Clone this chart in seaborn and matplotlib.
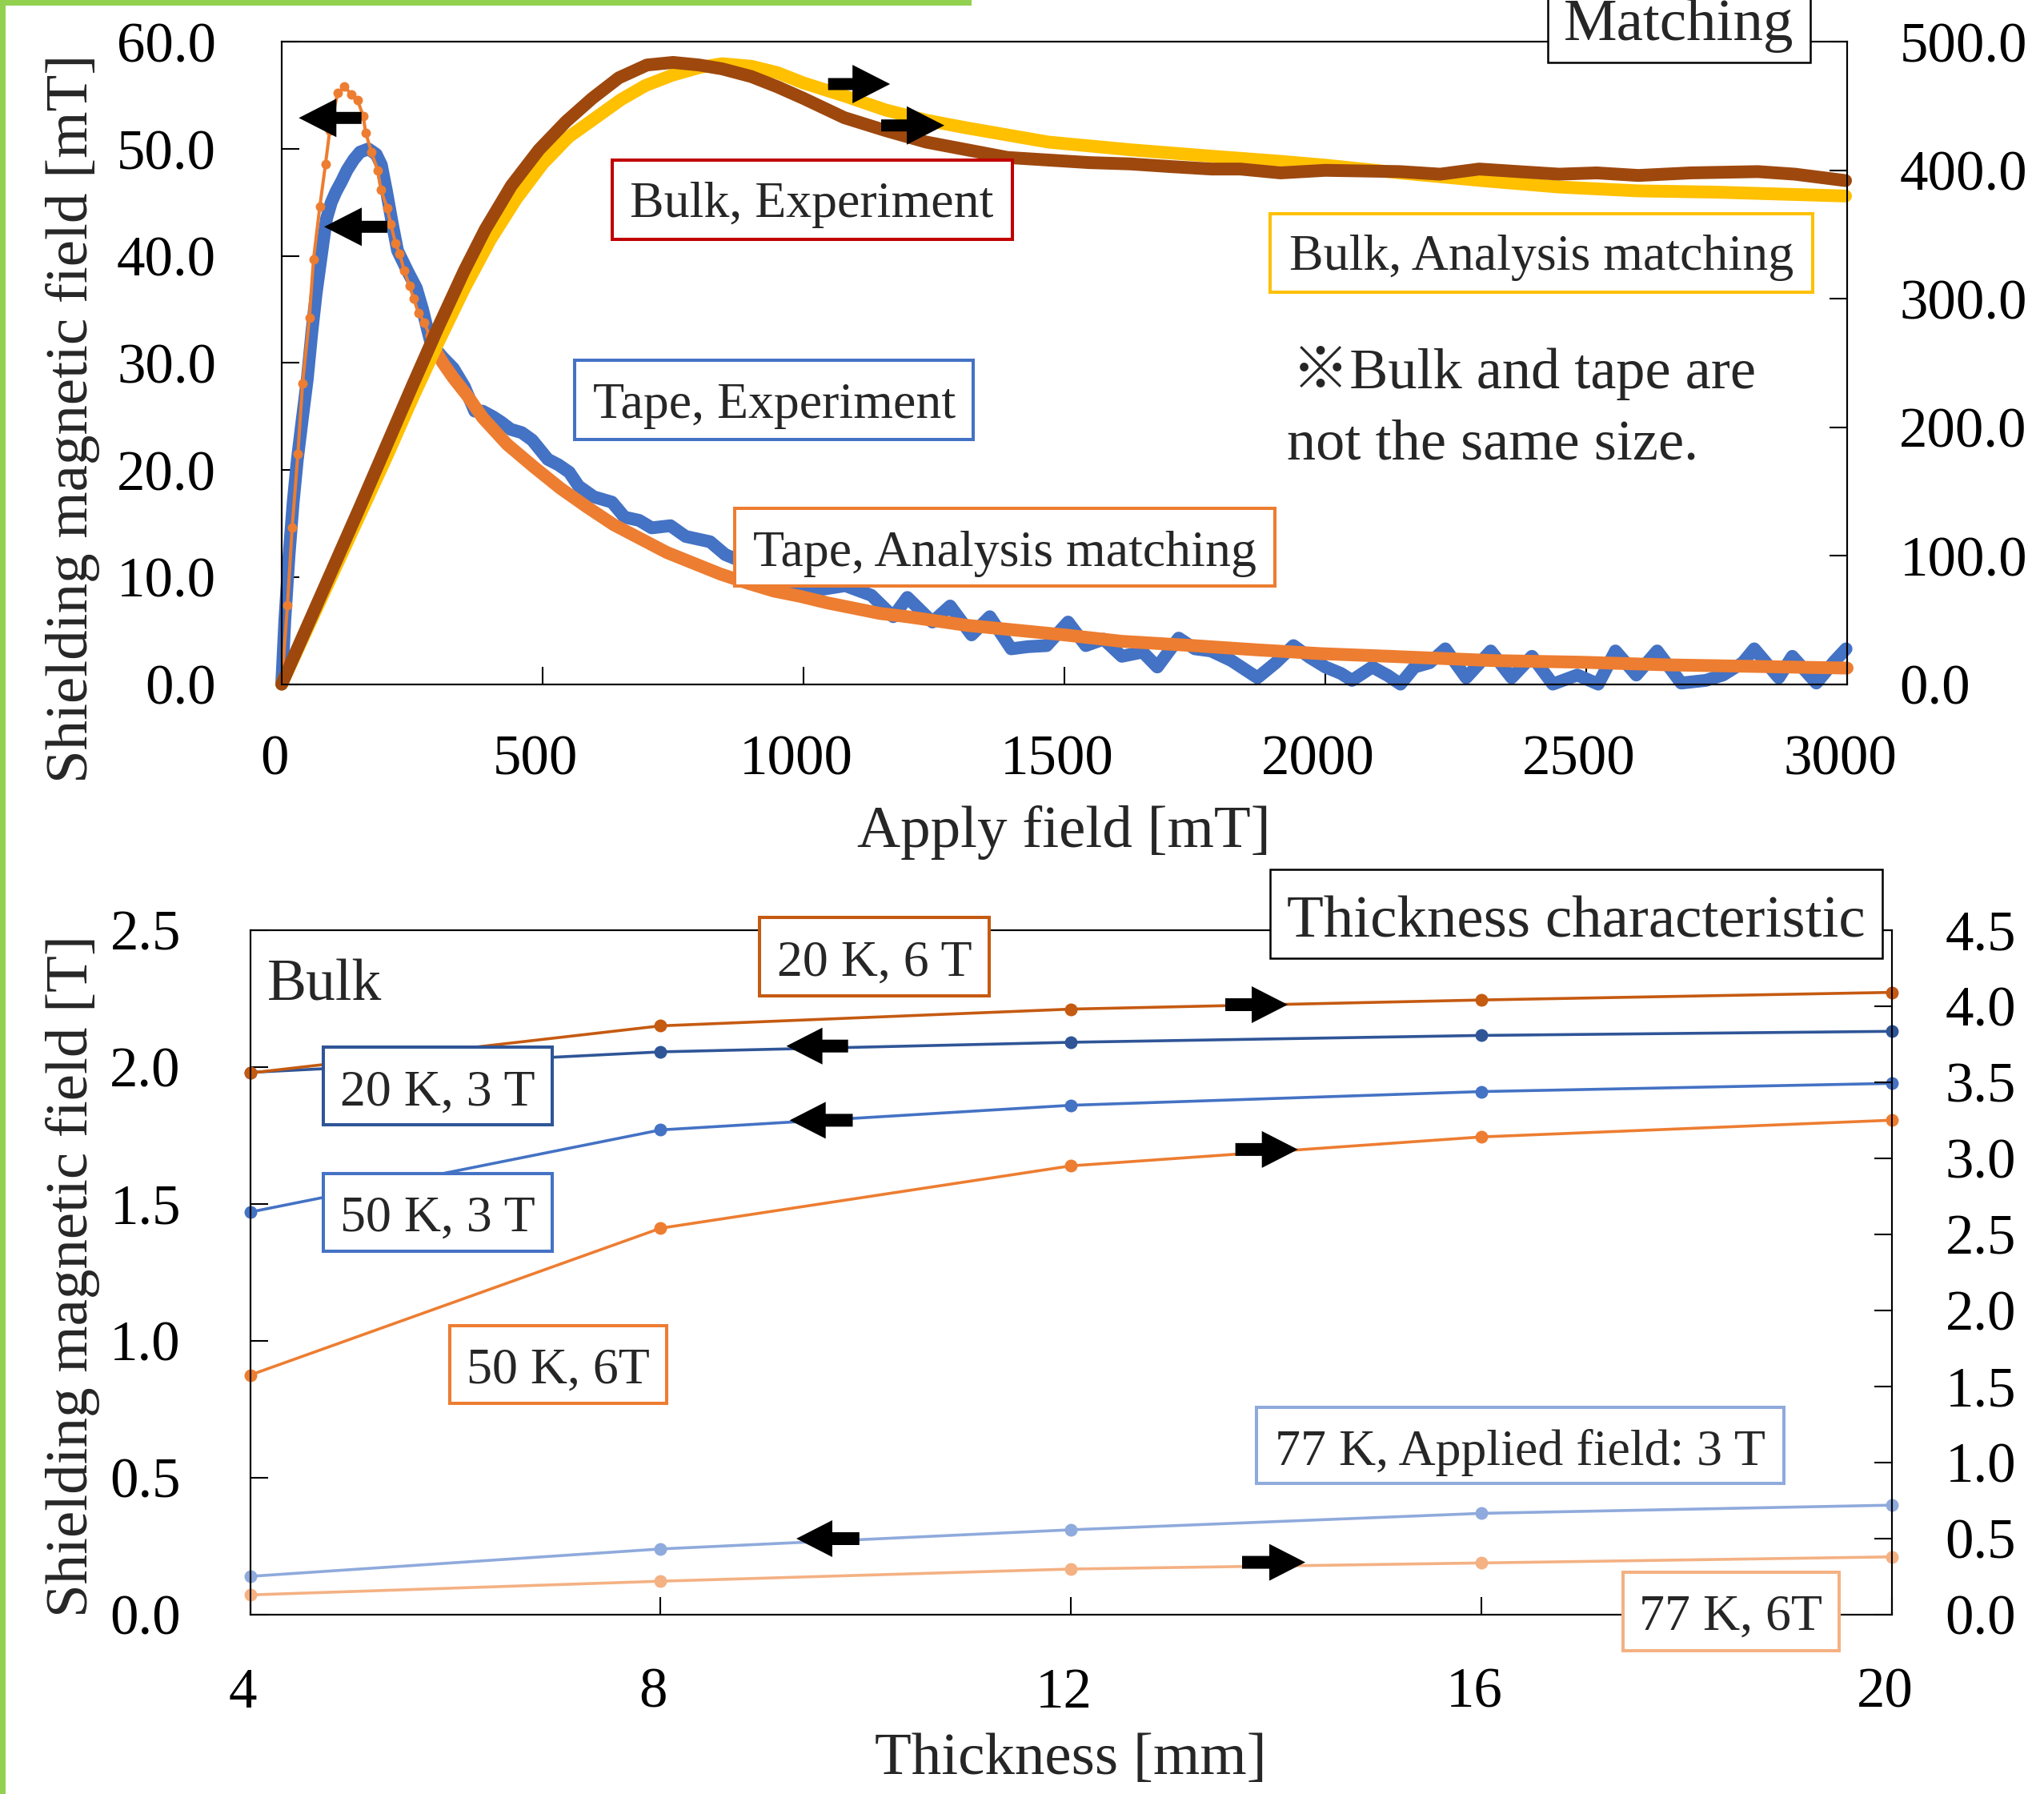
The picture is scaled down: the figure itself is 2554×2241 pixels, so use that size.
import matplotlib
matplotlib.use("Agg")
import matplotlib.pyplot as plt
import seaborn as sns
from matplotlib.patches import Rectangle, Polygon
from matplotlib.ticker import FormatStrFormatter
from matplotlib.transforms import ScaledTranslation

W, H, DPI = 2554, 2241, 100

# ---- top panel data ----
tape_exp_x = [0, 6, 14, 22, 30, 40, 49, 58, 66, 73, 80, 86, 95, 104, 115, 125, 138, 150, 166, 181,
              191, 201, 212, 222, 232, 242, 258, 270, 280, 288, 300, 309, 329, 350, 370, 385, 404, 420,
              439, 460, 480, 510, 530, 551, 569, 598, 633, 657, 685, 709, 745, 774, 821, 850, 880, 920,
              960, 1000, 1028, 1080, 1130, 1172, 1199, 1247, 1281, 1322, 1357, 1398, 1430, 1466, 1507,
              1541, 1575, 1610, 1650, 1678, 1719, 1750, 1781, 1820, 1870, 1905, 1939, 1970, 2000, 2030,
              2051, 2090, 2120, 2144, 2171, 2200, 2230, 2270, 2317, 2357, 2396, 2436, 2483, 2523, 2556,
              2596, 2636, 2682, 2729, 2762, 2800, 2822, 2869, 2895, 2941, 2975, 2998]
tape_exp_y = [0.0, 6.0, 12.0, 17.0, 21.0, 25.0, 28.5, 33.0, 36.5, 39.0, 41.5, 43.5, 45.0, 46.0, 47.0,
              48.0, 49.0, 49.7, 50.0, 49.5, 48.5, 46.0, 43.0, 40.5, 39.5, 38.5, 37.0, 35.0, 33.0, 31.5,
              31.0, 30.5, 29.5, 27.8, 25.5, 25.5, 25.0, 24.5, 23.8, 23.5, 22.8, 21.0, 20.5, 19.8, 18.5,
              17.5, 17.0, 15.6, 15.3, 14.6, 14.8, 13.8, 13.3, 12.1, 11.5, 10.5, 9.5, 9.0, 8.8, 9.2, 8.3,
              6.3, 8.1, 5.8, 7.3, 4.6, 6.3, 3.3, 3.5, 3.6, 5.8, 3.6, 4.2, 2.6, 3.0, 1.6, 4.3, 3.3, 3.1,
              2.2, 0.6, 2.0, 3.6, 2.5, 1.6, 1.0, 0.35, 1.6, 0.8, 0.0, 1.6, 2.0, 3.3, 0.6, 3.1, 0.6, 2.6,
              0.0, 0.85, 0.0, 3.1, 0.85, 3.1, 0.1, 0.35, 0.85, 2.0, 3.3, 0.6, 2.6, 0.1, 2.1, 3.3]

tape_fit_x = [0, 11, 20, 31, 40, 53, 61, 73, 84, 92, 107, 120, 134, 145, 156, 161, 172, 184, 190, 202,
              209, 218, 226, 235, 245, 253, 262, 273, 283, 293, 309, 329, 355, 385, 432, 483, 534, 585,
              636, 687, 738, 789, 840, 892, 943, 994, 1045, 1096, 1147, 1199, 1312, 1500, 1610, 1747,
              1870, 1991, 2123, 2323, 2489, 2656, 2829, 3000]
tape_fit_y = [0.0, 7.4, 14.6, 21.5, 28.1, 34.2, 39.7, 44.6, 48.6, 51.7, 55.2, 55.8, 55.1, 54.6, 53.1,
              51.5, 49.7, 48.0, 46.2, 44.5, 43.0, 41.2, 40.2, 38.6, 37.2, 36.0, 34.7, 33.8, 32.6, 31.3,
              30.0, 28.6, 27.0, 24.9, 22.4, 20.3, 18.3, 16.55, 14.9, 13.6, 12.3, 11.3, 10.3, 9.45, 8.7,
              8.2, 7.6, 7.1, 6.6, 6.3, 5.5, 4.6, 4.0, 3.6, 3.2, 2.85, 2.6, 2.2, 2.05, 1.8, 1.65, 1.5]

bulk_exp_x = [0, 50, 100, 150, 200, 250, 300, 350, 390, 440, 493, 545, 595, 646, 700, 750, 800, 844,
              900, 950, 1000, 1078, 1157, 1235, 1313, 1391, 1469, 1548, 1626, 1700, 1782, 1837, 1914,
              2000, 2143, 2220, 2295, 2370, 2448, 2520, 2600, 2700, 2829, 2900, 2997]
bulk_exp_y = [0, 46, 92, 138, 185, 232, 278, 322, 354, 388, 416, 438, 456, 472, 482, 484, 482, 479,
              473, 465, 456, 441, 431, 422, 416, 410, 408, 406, 405, 403, 401, 401, 398, 400, 399, 397,
              401, 399, 397, 398, 396, 398, 399, 397, 392]

bulk_fit_x = [0, 50, 100, 150, 200, 250, 300, 350, 400, 450, 500, 550, 595, 650, 697, 748, 800, 844,
              900, 950, 1000, 1078, 1157, 1235, 1313, 1469, 1626, 1782, 1914, 2000, 2143, 2300, 2448,
              2600, 2750, 2997]
bulk_fit_y = [0, 44, 88, 132, 176, 222, 266, 308, 346, 378, 405, 426, 439, 455, 466, 474, 480, 483,
              481, 476, 468, 458, 447, 439, 433, 422, 416, 411, 407, 404, 398, 392, 387, 384, 383, 380]

# ---- bottom panel data ----
thickness = [4, 8, 12, 16, 20]
k20_3t = [1.98, 2.055, 2.09, 2.115, 2.13]   # left axis
k50_3t = [1.47, 1.77, 1.86, 1.91, 1.94]     # left axis
k77_3t = [0.14, 0.24, 0.31, 0.37, 0.40]     # left axis
k20_6t = [3.56, 3.87, 3.98, 4.04, 4.09]     # right axis
k50_6t = [1.575, 2.54, 2.95, 3.14, 3.25]    # right axis
k77_6t = [0.13, 0.22, 0.30, 0.34, 0.38]     # right axis

sns.set_style("ticks")
plt.rcParams["font.family"] = ["Liberation Serif", "Noto Sans CJK JP"]

fig = plt.figure(figsize=(W / DPI, H / DPI), dpi=DPI)
fig.patch.set_facecolor("white")


def fx(px):
    return px / W


def fy(py):
    return 1 - py / H


def style_axis(ax, xpad, ypad):
    ax.tick_params(axis="both", direction="in", length=15.5, width=1.5,
                   labelsize=51, colors="black")
    ax.tick_params(axis="x", pad=xpad)
    ax.tick_params(axis="y", pad=ypad)
    for s in ax.spines.values():
        s.set_visible(True)
        s.set_linewidth(1.5)
        s.set_color("black")


# ---------------- top panel ----------------
ax1 = fig.add_axes([fx(352), fy(854.6), fx(2308) - fx(352), fy(52.3) - fy(854.6)])
ax1r = ax1.twinx()

sns.lineplot(x=tape_exp_x, y=tape_exp_y, ax=ax1, color="#4472C4", linewidth=11.5,
             solid_joinstyle="round", solid_capstyle="round", clip_on=False)
sns.lineplot(x=tape_fit_x, y=tape_fit_y, ax=ax1, color="#ED7D31", linewidth=2.9,
             marker="o", markersize=8.6, markeredgewidth=0, clip_on=False)
# past the peak the fitted markers sit so close together they read as a thick band
tail_x = [x for x in tape_fit_x if x >= 290]
tail_y = [y for x, y in zip(tape_fit_x, tape_fit_y) if x >= 290]
sns.lineplot(x=tail_x, y=tail_y, ax=ax1, color="#ED7D31", linewidth=11.5,
             solid_joinstyle="round", solid_capstyle="round", clip_on=False)

sns.lineplot(x=bulk_fit_x, y=bulk_fit_y, ax=ax1r, color="#FFC000", linewidth=11.5,
             solid_joinstyle="round", solid_capstyle="round", clip_on=False)
sns.lineplot(x=bulk_exp_x, y=bulk_exp_y, ax=ax1r, color="#9E480E", linewidth=11.5,
             solid_joinstyle="round", solid_capstyle="round", clip_on=False)

ax1.set_xlim(0, 3000)
ax1.set_ylim(0, 60)
ax1.set_xticks(range(0, 3001, 500))
ax1.set_yticks(range(0, 61, 10))
ax1.yaxis.set_major_formatter(FormatStrFormatter("%.1f"))
ax1r.set_ylim(0, 500)
ax1r.set_yticks(range(0, 501, 100))
ax1r.yaxis.set_major_formatter(FormatStrFormatter("%.1f"))
for a in (ax1, ax1r):
    a.set_xlabel("")
    a.set_ylabel("")
style_axis(ax1, 45, 59)
style_axis(ax1r, 45, 47)
ax1.tick_params(right=False, top=False)

# ---------------- bottom panel ----------------
ax2 = fig.add_axes([fx(312.6), fy(2017), fx(2364) - fx(312.6), fy(1161.7) - fy(2017)])
ax2r = ax2.twinx()

for vals, col in [(k77_3t, "#8FAADC"), (k50_3t, "#4472C4"), (k20_3t, "#2F5597")]:
    sns.lineplot(x=thickness, y=vals, ax=ax2, color=col, linewidth=2.6, marker="o",
                 markersize=11.5, markeredgewidth=0, clip_on=False)
for vals, col in [(k77_6t, "#F4B183"), (k50_6t, "#ED7D31"), (k20_6t, "#C55A11")]:
    sns.lineplot(x=thickness, y=vals, ax=ax2r, color=col, linewidth=2.6, marker="o",
                 markersize=11.5, markeredgewidth=0, clip_on=False)

ax2.set_xlim(4, 20)
ax2.set_ylim(0, 2.5)
ax2.set_xticks(thickness)
ax2.set_yticks([0, 0.5, 1.0, 1.5, 2.0, 2.5])
ax2.yaxis.set_major_formatter(FormatStrFormatter("%.1f"))
ax2r.set_ylim(0, 4.5)
ax2r.set_yticks([0, 0.5, 1.0, 1.5, 2.0, 2.5, 3.0, 3.5, 4.0, 4.5])
ax2r.yaxis.set_major_formatter(FormatStrFormatter("%.1f"))
for a in (ax2, ax2r):
    a.set_xlabel("")
    a.set_ylabel("")
style_axis(ax2, 47.5, 62.5)
style_axis(ax2r, 47.5, 48)
ax2.tick_params(right=False, top=False)

# ---------------- axis titles ----------------
fig.text(fx(91), fy(523), "Shielding magnetic field [mT]", rotation=90, ha="center", va="center", fontsize=54)
fig.text(fx(91), fy(1594), "Shielding magnetic field [T]", rotation=90, ha="center", va="center", fontsize=54)
fig.text(fx(1329), fy(1058), "Apply field [mT]", ha="center", va="baseline", fontsize=54)
fig.text(fx(1338), fy(2216), "Thickness [mm]", ha="center", va="baseline", fontsize=54)


# ---------------- boxes, notes, arrows ----------------
def label_box(x0, y0, x1, y1, base, text, ec, lw=2.9, size=46):
    fig.add_artist(Rectangle((fx(x0), fy(y1)), fx(x1) - fx(x0), fy(y0) - fy(y1),
                             facecolor="white", edgecolor=ec, linewidth=lw,
                             transform=fig.transFigure, zorder=5))
    fig.text(fx((x0 + x1) / 2), fy(base), text, ha="center", va="baseline",
             fontsize=size, zorder=6)


def block_arrow(x_tail, x_tip, y, head_len=47, head_half=24, shaft_half=7.5):
    d = 1 if x_tip > x_tail else -1
    xb = x_tip - d * head_len
    pts = [(x_tail, y - shaft_half), (xb, y - shaft_half), (xb, y - head_half), (x_tip, y),
           (xb, y + head_half), (xb, y + shaft_half), (x_tail, y + shaft_half)]
    fig.add_artist(Polygon([(fx(a), fy(b)) for a, b in pts], closed=True, facecolor="black",
                           edgecolor="none", transform=fig.transFigure, zorder=4))


label_box(1934, -10, 2262, 78, 50, "Matching", "black", lw=1.8, size=54)
label_box(764.5, 199.6, 1264.5, 298.5, 271, "Bulk, Experiment", "#C00000")
label_box(718, 449.6, 1216.4, 548.5, 521.7, "Tape, Experiment", "#4472C4")
label_box(918, 634.6, 1592.6, 732, 706.6, "Tape, Analysis matching", "#ED7D31")
label_box(1586.8, 266.6, 2264.6, 365.4, 336.7, "Bulk, Analysis matching", "#FFC000")
fig.text(fx(1614), fy(484.7), "※Bulk and tape are", ha="left", va="baseline", fontsize=52, zorder=6)
fig.text(fx(1607.6), fy(574), "not the same size.", ha="left", va="baseline", fontsize=52, zorder=6)

label_box(1586.8, 1085.7, 2351.8, 1196.6, 1170, "Thickness characteristic", "black", lw=1.8, size=54)
fig.text(fx(334), fy(1249), "Bulk", ha="left", va="baseline", fontsize=53, zorder=6)
label_box(949.4, 1146.5, 1235.5, 1243.7, 1218.6, "20 K, 6 T", "#C55A11")
label_box(403.8, 1308.3, 689.9, 1404.7, 1380.4, "20 K, 3 T", "#2F5597")
label_box(403.8, 1465.5, 689.9, 1562.7, 1537.7, "50 K, 3 T", "#4472C4")
label_box(562, 1656, 833.3, 1752.6, 1727.5, "50 K, 6T", "#ED7D31")
label_box(1570, 1758, 2228.8, 1852.9, 1830, "77 K, Applied field: 3 T", "#8FAADC")
label_box(2027.5, 1963.8, 2297.8, 2061.8, 2036, "77 K, 6T", "#F4B183")

block_arrow(451.7, 373.3, 147.3)
block_arrow(484, 405, 283.3)
block_arrow(1034.7, 1112.2, 105)
block_arrow(1101, 1180, 156.7)
block_arrow(1059.7, 982.6, 1306.7, head_len=45, head_half=23, shaft_half=8)
block_arrow(1065.5, 986.7, 1399.4, head_len=45, head_half=23, shaft_half=8)
block_arrow(1073.8, 995, 1922, head_len=45, head_half=23, shaft_half=8)
block_arrow(1531, 1609, 1255, head_len=45, head_half=23, shaft_half=8)
block_arrow(1543.6, 1621.7, 1435.9, head_len=45, head_half=23, shaft_half=8)
block_arrow(1552, 1631, 1951.6, head_len=45, head_half=23, shaft_half=8)

# green frame lines at the left and top edge
fig.add_artist(Rectangle((0, 0), fx(7), 1, facecolor="#92D050", edgecolor="none",
                         transform=fig.transFigure, zorder=7))
fig.add_artist(Rectangle((0, fy(7)), fx(1214), 7 / H, facecolor="#92D050",
                         edgecolor="none", transform=fig.transFigure, zorder=7))

# x tick labels sit a little left of their ticks in the original
shift = ScaledTranslation(-9 / DPI, 0, fig.dpi_scale_trans)
for a in (ax1, ax2):
    for lab in a.get_xticklabels():
        lab.set_transform(lab.get_transform() + shift)

fig.savefig("out.png", dpi=DPI)
